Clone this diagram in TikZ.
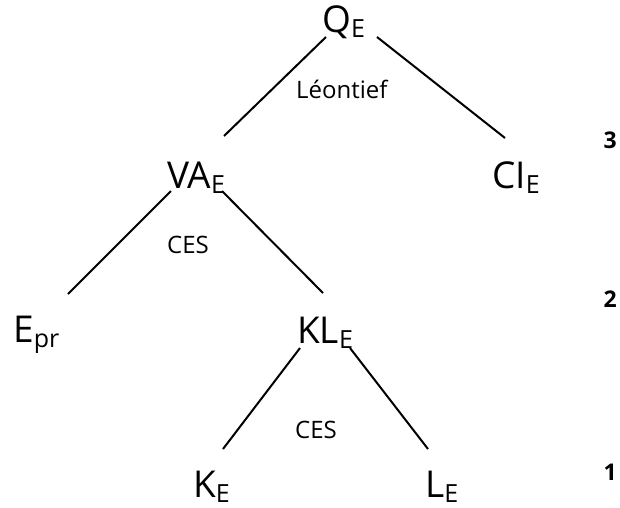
\documentclass[tikz,border=0pt]{standalone}
\usepackage{fontspec}
\setmainfont{Open Sans}
\usepackage{tikz}
\usetikzlibrary{calc,positioning}
\newcommand{\lowidx}[1]{\raisebox{-5pt}{\fontsize{25}{25}\selectfont #1}}
\tikzset{
  var/.style={anchor=base west, inner sep=0pt, font=\fontsize{37}{37}\selectfont},
  func/.style={anchor=base west, inner sep=0pt, font=\fontsize{24}{24}\selectfont},
  level/.style={anchor=base east, inner sep=0pt, font=\fontsize{23}{23}\selectfont\bfseries},
  branch/.style={line width=2pt}
}

\begin{document}
\begin{tikzpicture}[x=1pt, y=-1pt]
    \useasboundingbox (0,0) rectangle (620,507);
    \node [var] (qe) at (322,32) {Q\lowidx{E}};
    \node [var] (vae) at (167,188) {VA\lowidx{E}};
    \node [var] (cie) at (492,188) {CI\lowidx{E}};
    \node [var] (epr) at (13,342) {E\lowidx{pr}};
    \node [var] (kle) at (297,343) {KL\lowidx{E}};
    \node [var] (ke) at (193,497) {K\lowidx{E}};
    \node [var] (le) at (425,497) {L\lowidx{E}};

    \node [func] (leon) at (296,98) {Léontief};
    \node [func] (ces1) at (167,253) {CES};
    \node [func] (ces2) at (295,438) {CES};

    \node [level] (lev3) at (617,148) {3};
    \node [level] (lev2) at (617,307) {2};
    \node [level] (lev1) at (617,480) {1};

    \draw [branch] ($(qe.base west)+(4,5)$) -- ($(vae.base west)+(57,-52)$);
    \draw [branch] ($(qe.base west)+(55,5)$) -- ($(cie.base west)+(13,-50)$);
    \draw [branch] ($(vae.base west)+(4,3)$) -- ($(epr.base west)+(55,-48)$);
    \draw [branch] ($(vae.base west)+(55,3)$) -- ($(kle.base west)+(26,-50)$);
    \draw [branch] ($(kle.base west)+(3,5)$) -- ($(ke.base west)+(30,-48)$);
    \draw [branch] ($(kle.base west)+(53,5)$) -- ($(le.base west)+(3,-48)$);
\end{tikzpicture}
\end{document}
